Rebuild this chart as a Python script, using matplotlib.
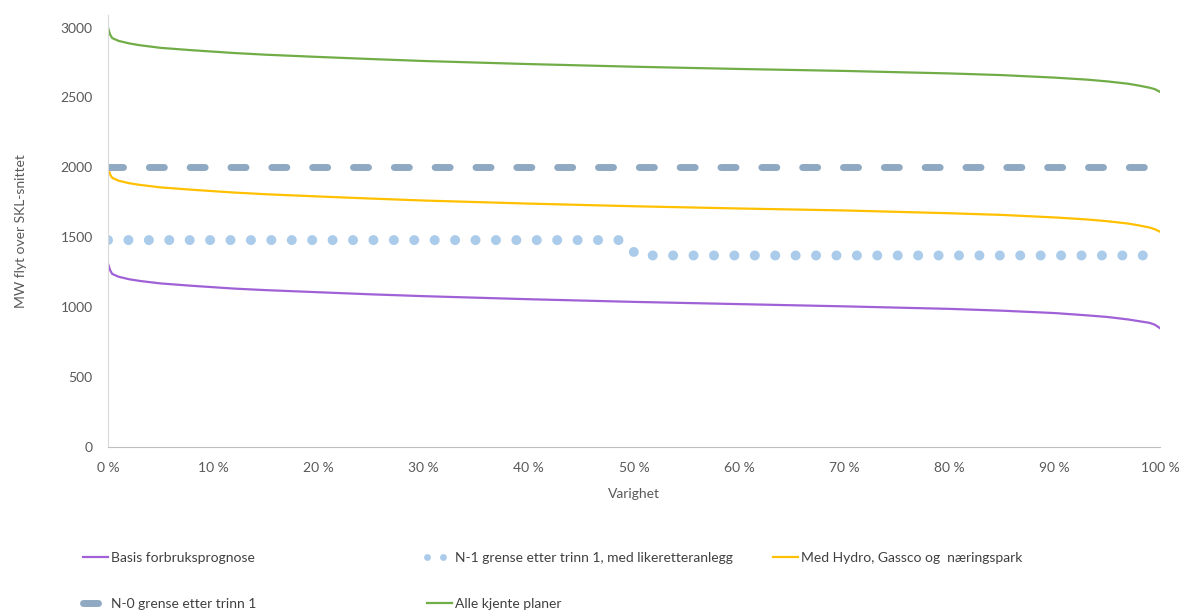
import matplotlib
matplotlib.use("Agg")
import matplotlib.pyplot as plt
from matplotlib.lines import Line2D

plt.rcParams['font.family'] = ['Lato', 'DejaVu Sans']
plt.rcParams['lines.scale_dashes'] = False

# varighet i prosent
x_pct = [0, 0.2, 0.4, 1, 2, 3, 5, 8, 12, 15, 20, 25, 30, 40, 50, 60, 70,
         80, 85, 90, 93, 95, 97, 98, 99, 99.5, 100]

basis = [1312, 1265, 1238, 1218, 1200, 1188, 1170, 1153, 1133, 1122, 1107,
         1092, 1079, 1057, 1038, 1022, 1006, 988, 975, 958, 942, 930, 912,
         900, 888, 875, 850]
hydro = [2000, 1950, 1925, 1905, 1887, 1875, 1857, 1840, 1820, 1808, 1792,
         1777, 1763, 1741, 1722, 1706, 1692, 1672, 1660, 1642, 1628, 1615,
         1598, 1585, 1570, 1558, 1540]
alle = [3000, 2950, 2925, 2905, 2887, 2874, 2855, 2838, 2818, 2806, 2790,
        2775, 2761, 2739, 2720, 2704, 2690, 2672, 2660, 2642, 2628, 2615,
        2598, 2585, 2570, 2560, 2540]

# grenser
n1_x = [0, 48.9, 50.3, 100]
n1_y = [1480, 1480, 1370, 1370]
n0_x = [0, 100]
n0_y = [2000, 2000]

xticks = [0, 10, 20, 30, 40, 50, 60, 70, 80, 90, 100]
xticklabels = ['0 %', '10 %', '20 %', '30 %', '40 %', '50 %', '60 %',
               '70 %', '80 %', '90 %', '100 %']
yticks = [0, 500, 1000, 1500, 2000, 2500, 3000]

fig = plt.figure(figsize=(11.82, 6.11), dpi=100)
ax = fig.add_axes([108/1182, 1 - 447/611, (1160-108)/1182, 432/611])

l_basis, = ax.plot(x_pct, basis, color='#a061d6', lw=1.6,
                   label='Basis forbruksprognose')
l_n1, = ax.plot(n1_x, n1_y, color='#aacbea', lw=7.2,
                linestyle=(0, (0.001, 14.7)), dash_capstyle='round',
                label='N-1 grense etter trinn 1, med likeretteranlegg')
l_hydro, = ax.plot(x_pct, hydro, color='#ffc000', lw=1.6,
                   label='Med Hydro, Gassco og  næringspark')
l_n0, = ax.plot(n0_x, n0_y, color='#8fa9c2', lw=5,
                linestyle=(0, (10.8, 18.6)), dash_capstyle='round',
                label='N-0 grense etter trinn 1')
l_alle, = ax.plot(x_pct, alle, color='#70ad47', lw=1.6,
                  label='Alle kjente planer')

ax.set_xlim(0, 100)
ax.set_ylim(0, 3090)
ax.set_xticks(xticks)
ax.set_xticklabels(xticklabels)
ax.set_yticks(yticks)
ax.tick_params(length=0, labelsize=10, colors='#595959')
ax.tick_params(axis='x', pad=11)
ax.tick_params(axis='y', pad=11)
for s in ['top', 'right']:
    ax.spines[s].set_visible(False)
ax.spines['left'].set_color('#d9d9d9')
ax.spines['bottom'].set_color('#bfbfbf')

ax.set_xlabel('Varighet', fontsize=10, color='#595959', labelpad=10)
ax.set_ylabel('MW flyt over SKL-snittet', fontsize=10, color='#595959',
              labelpad=24)

# mindre prikker i legenden, som i Excel
n1_proxy = Line2D([], [], color='#aacbea', lw=5,
                  linestyle=(0, (0.001, 11.5)), dash_capstyle='round')

# legende i tre kolonner
kw = dict(frameon=False, fontsize=10, labelcolor='#404040', handlelength=1.8,
          handletextpad=0.2, labelspacing=2.45, borderpad=0, loc='upper left')
leg_top = 1 - 545/611
fig.legend([l_basis, l_n0], [l_basis.get_label(), l_n0.get_label()],
           bbox_to_anchor=(76/1182, leg_top), **kw)
fig.legend([n1_proxy, l_alle], [l_n1.get_label(), l_alle.get_label()],
           bbox_to_anchor=(420/1182, leg_top), **kw)
fig.legend([l_hydro], [l_hydro.get_label()],
           bbox_to_anchor=(766/1182, leg_top), **kw)

fig.savefig('out.png', dpi=100)
